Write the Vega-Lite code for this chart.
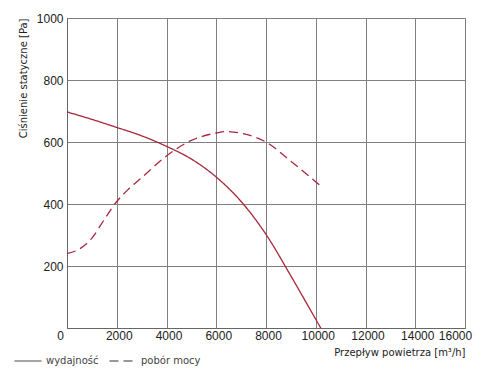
{
  "$schema": "https://vega.github.io/schema/vega-lite/v6.json",
  "autosize": "none",
  "width": 398,
  "height": 310,
  "padding": {"left": 67, "top": 18, "right": 14, "bottom": 47},
  "background": "white",
  "config": {
    "view": {"stroke": "#888888", "strokeWidth": 1},
    "font": "DejaVu Sans"
  },
  "data": {
    "values": [
      {"q": 0, "p": 697, "s": "wydajność"},
      {"q": 1000, "p": 673, "s": "wydajność"},
      {"q": 2000, "p": 647, "s": "wydajność"},
      {"q": 3000, "p": 620, "s": "wydajność"},
      {"q": 4000, "p": 586, "s": "wydajność"},
      {"q": 5000, "p": 545, "s": "wydajność"},
      {"q": 6000, "p": 487, "s": "wydajność"},
      {"q": 7000, "p": 408, "s": "wydajność"},
      {"q": 8000, "p": 302, "s": "wydajność"},
      {"q": 9000, "p": 168, "s": "wydajność"},
      {"q": 10000, "p": 28, "s": "wydajność"},
      {"q": 10200, "p": 0, "s": "wydajność"},
      {"q": 0, "p": 240, "s": "pobór mocy"},
      {"q": 500, "p": 255, "s": "pobór mocy"},
      {"q": 1000, "p": 290, "s": "pobór mocy"},
      {"q": 1500, "p": 350, "s": "pobór mocy"},
      {"q": 2000, "p": 408, "s": "pobór mocy"},
      {"q": 2500, "p": 450, "s": "pobór mocy"},
      {"q": 3000, "p": 485, "s": "pobór mocy"},
      {"q": 4000, "p": 555, "s": "pobór mocy"},
      {"q": 5000, "p": 605, "s": "pobór mocy"},
      {"q": 6000, "p": 629, "s": "pobór mocy"},
      {"q": 6400, "p": 634, "s": "pobór mocy"},
      {"q": 7000, "p": 628, "s": "pobór mocy"},
      {"q": 8000, "p": 600, "s": "pobór mocy"},
      {"q": 9000, "p": 538, "s": "pobór mocy"},
      {"q": 10280, "p": 453, "s": "pobór mocy"}
    ]
  },
  "mark": {"type": "line", "interpolate": "monotone", "color": "#a8283c", "strokeWidth": 1.3},
  "encoding": {
    "x": {
      "field": "q", "type": "quantitative",
      "scale": {"domain": [0, 16000], "nice": false},
      "axis": {
        "values": [0, 2000, 4000, 6000, 8000, 10000, 12000, 14000, 16000],
        "format": "d",
        "labelOverlap": false,
        "labelFlush": false,
        "labelBound": false,
        "labelOffset": {"expr": "datum.value == 16000 ? -10 : (datum.value == 0 ? -7 : 2)"},
        "title": "Przepływ powietrza [m³/h]",
        "titleAnchor": "end",
        "titleAlign": "right",
        "titleFont": "DejaVu Sans",
        "titleFontSize": 10,
        "titleFontWeight": "normal",
        "titleColor": "#222222",
        "titlePadding": 6,
        "labelFont": "Liberation Sans",
        "labelFontSize": 12,
        "labelColor": "#222222",
        "labelPadding": 2,
        "ticks": false,
        "grid": true,
        "gridColor": "#808080",
        "gridOpacity": 1,
        "domainColor": "#666666"
      }
    },
    "y": {
      "field": "p", "type": "quantitative",
      "scale": {"domain": [0, 1000], "nice": false},
      "axis": {
        "values": [200, 400, 600, 800, 1000],
        "format": "d",
        "labelOverlap": false,
        "labelFlush": false,
        "labelBound": false,
        "title": "Ciśnienie statyczne [Pa]",
        "titleAnchor": "end",
        "titleFont": "DejaVu Sans",
        "titleFontSize": 10,
        "titleFontWeight": "normal",
        "titleColor": "#222222",
        "titlePadding": 8,
        "labelFont": "Liberation Sans",
        "labelFontSize": 12,
        "labelColor": "#222222",
        "labelPadding": 4,
        "ticks": false,
        "grid": true,
        "gridColor": "#808080",
        "gridOpacity": 1,
        "domainColor": "#666666"
      }
    },
    "strokeDash": {
      "field": "s", "type": "nominal",
      "scale": {"domain": ["wydajność", "pobór mocy"], "range": [[1, 0], [9, 5]]},
      "legend": {
        "title": null,
        "orient": "none",
        "direction": "horizontal",
        "legendX": -53,
        "legendY": 329,
        "symbolType": "stroke",
        "symbolSize": 729,
        "symbolStrokeColor": "#333333",
        "symbolStrokeWidth": 1,
        "labelFont": "DejaVu Sans",
        "labelFontSize": 10,
        "labelColor": "#444444",
        "columnPadding": 8,
        "symbolOffset": 0
      }
    }
  }
}
